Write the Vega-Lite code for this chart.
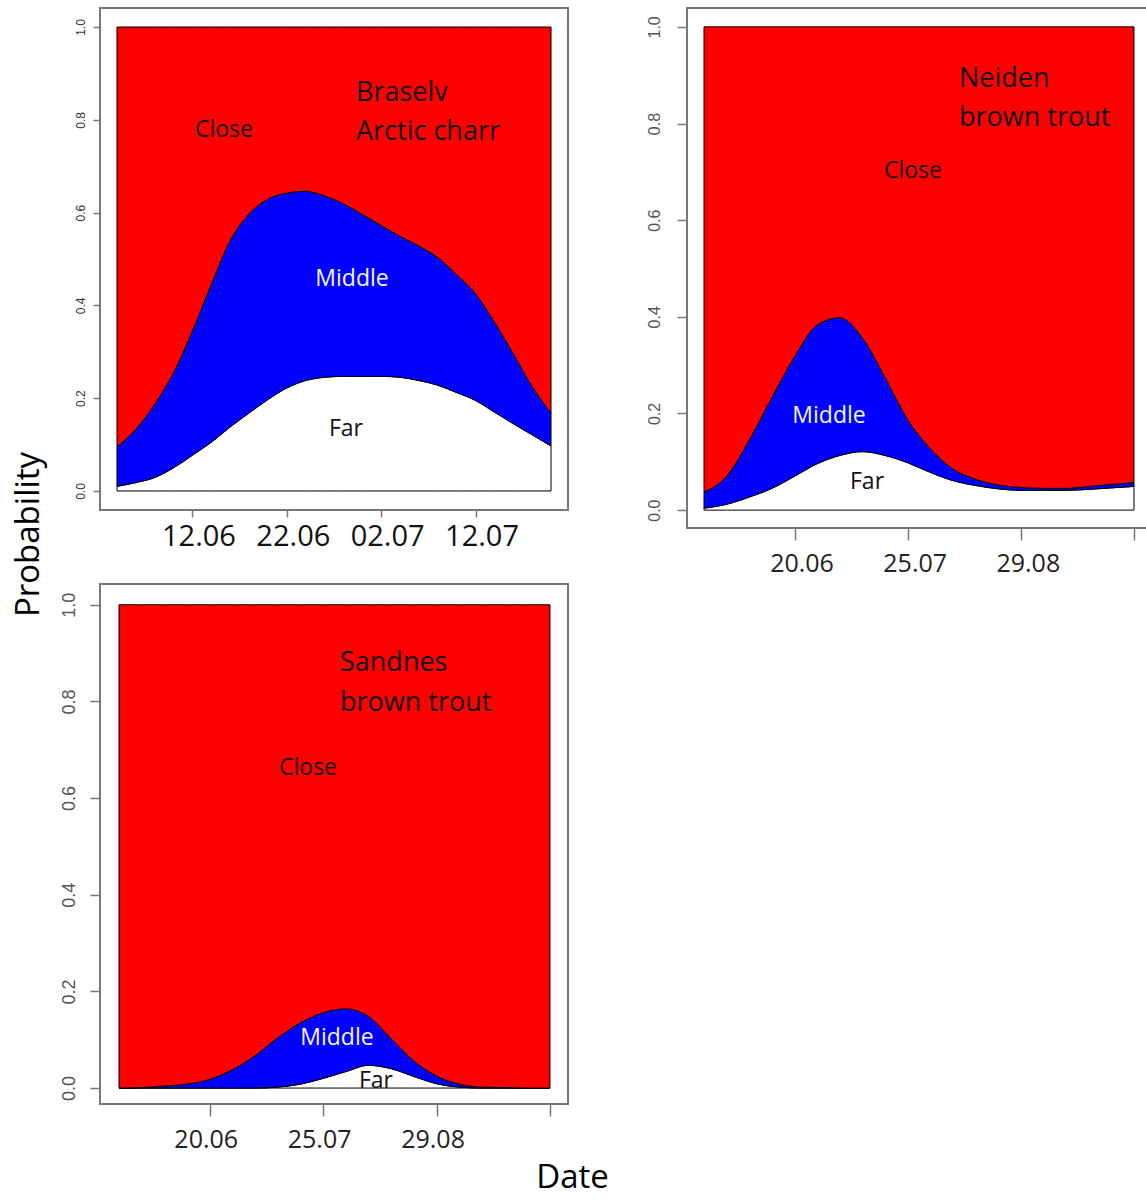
{
  "$schema": "https://vega.github.io/schema/vega-lite/v6.json",
  "background": "white",
  "padding": {"left": 11, "top": 7, "right": 0, "bottom": 0},
  "config": {
    "view": {"stroke": "#777", "strokeWidth": 2},
    "axis": {"domain": false, "grid": false, "labelFlush": false, "labelOverlap": false, "tickColor": "#777", "tickWidth": 1.5}
  },
  "datasets": {
    "braselv": [
      {"doy":155,"zone":"Far","rank":1,"prob":0.010},{"doy":155,"zone":"Middle","rank":2,"prob":0.085},{"doy":155,"zone":"Close","rank":3,"prob":0.905},
      {"doy":157,"zone":"Far","rank":1,"prob":0.018},{"doy":157,"zone":"Middle","rank":2,"prob":0.115},{"doy":157,"zone":"Close","rank":3,"prob":0.867},
      {"doy":159,"zone":"Far","rank":1,"prob":0.029},{"doy":159,"zone":"Middle","rank":2,"prob":0.158},{"doy":159,"zone":"Close","rank":3,"prob":0.813},
      {"doy":161,"zone":"Far","rank":1,"prob":0.050},{"doy":161,"zone":"Middle","rank":2,"prob":0.205},{"doy":161,"zone":"Close","rank":3,"prob":0.745},
      {"doy":163,"zone":"Far","rank":1,"prob":0.077},{"doy":163,"zone":"Middle","rank":2,"prob":0.268},{"doy":163,"zone":"Close","rank":3,"prob":0.655},
      {"doy":165,"zone":"Far","rank":1,"prob":0.105},{"doy":165,"zone":"Middle","rank":2,"prob":0.340},{"doy":165,"zone":"Close","rank":3,"prob":0.555},
      {"doy":167,"zone":"Far","rank":1,"prob":0.138},{"doy":167,"zone":"Middle","rank":2,"prob":0.402},{"doy":167,"zone":"Close","rank":3,"prob":0.460},
      {"doy":169,"zone":"Far","rank":1,"prob":0.168},{"doy":169,"zone":"Middle","rank":2,"prob":0.429},{"doy":169,"zone":"Close","rank":3,"prob":0.403},
      {"doy":171,"zone":"Far","rank":1,"prob":0.197},{"doy":171,"zone":"Middle","rank":2,"prob":0.432},{"doy":171,"zone":"Close","rank":3,"prob":0.371},
      {"doy":173,"zone":"Far","rank":1,"prob":0.222},{"doy":173,"zone":"Middle","rank":2,"prob":0.420},{"doy":173,"zone":"Close","rank":3,"prob":0.358},
      {"doy":175,"zone":"Far","rank":1,"prob":0.238},{"doy":175,"zone":"Middle","rank":2,"prob":0.408},{"doy":175,"zone":"Close","rank":3,"prob":0.354},
      {"doy":177,"zone":"Far","rank":1,"prob":0.245},{"doy":177,"zone":"Middle","rank":2,"prob":0.391},{"doy":177,"zone":"Close","rank":3,"prob":0.364},
      {"doy":179,"zone":"Far","rank":1,"prob":0.247},{"doy":179,"zone":"Middle","rank":2,"prob":0.372},{"doy":179,"zone":"Close","rank":3,"prob":0.381},
      {"doy":181,"zone":"Far","rank":1,"prob":0.247},{"doy":181,"zone":"Middle","rank":2,"prob":0.349},{"doy":181,"zone":"Close","rank":3,"prob":0.404},
      {"doy":183,"zone":"Far","rank":1,"prob":0.247},{"doy":183,"zone":"Middle","rank":2,"prob":0.325},{"doy":183,"zone":"Close","rank":3,"prob":0.428},
      {"doy":185,"zone":"Far","rank":1,"prob":0.245},{"doy":185,"zone":"Middle","rank":2,"prob":0.304},{"doy":185,"zone":"Close","rank":3,"prob":0.451},
      {"doy":187,"zone":"Far","rank":1,"prob":0.238},{"doy":187,"zone":"Middle","rank":2,"prob":0.290},{"doy":187,"zone":"Close","rank":3,"prob":0.472},
      {"doy":189,"zone":"Far","rank":1,"prob":0.228},{"doy":189,"zone":"Middle","rank":2,"prob":0.275},{"doy":189,"zone":"Close","rank":3,"prob":0.497},
      {"doy":191,"zone":"Far","rank":1,"prob":0.212},{"doy":191,"zone":"Middle","rank":2,"prob":0.254},{"doy":191,"zone":"Close","rank":3,"prob":0.534},
      {"doy":193,"zone":"Far","rank":1,"prob":0.195},{"doy":193,"zone":"Middle","rank":2,"prob":0.230},{"doy":193,"zone":"Close","rank":3,"prob":0.575},
      {"doy":195,"zone":"Far","rank":1,"prob":0.170},{"doy":195,"zone":"Middle","rank":2,"prob":0.194},{"doy":195,"zone":"Close","rank":3,"prob":0.636},
      {"doy":197,"zone":"Far","rank":1,"prob":0.145},{"doy":197,"zone":"Middle","rank":2,"prob":0.151},{"doy":197,"zone":"Close","rank":3,"prob":0.704},
      {"doy":199,"zone":"Far","rank":1,"prob":0.121},{"doy":199,"zone":"Middle","rank":2,"prob":0.104},{"doy":199,"zone":"Close","rank":3,"prob":0.775},
      {"doy":201,"zone":"Far","rank":1,"prob":0.097},{"doy":201,"zone":"Middle","rank":2,"prob":0.071},{"doy":201,"zone":"Close","rank":3,"prob":0.832}
    ],
    "neiden": [
      {"doy":143,"zone":"Far","rank":1,"prob":0.004},{"doy":143,"zone":"Middle","rank":2,"prob":0.033},{"doy":143,"zone":"Close","rank":3,"prob":0.963},
      {"doy":150,"zone":"Far","rank":1,"prob":0.012},{"doy":150,"zone":"Middle","rank":2,"prob":0.058},{"doy":150,"zone":"Close","rank":3,"prob":0.930},
      {"doy":157,"zone":"Far","rank":1,"prob":0.027},{"doy":157,"zone":"Middle","rank":2,"prob":0.118},{"doy":157,"zone":"Close","rank":3,"prob":0.855},
      {"doy":164,"zone":"Far","rank":1,"prob":0.045},{"doy":164,"zone":"Middle","rank":2,"prob":0.188},{"doy":164,"zone":"Close","rank":3,"prob":0.767},
      {"doy":171,"zone":"Far","rank":1,"prob":0.070},{"doy":171,"zone":"Middle","rank":2,"prob":0.247},{"doy":171,"zone":"Close","rank":3,"prob":0.683},
      {"doy":178,"zone":"Far","rank":1,"prob":0.096},{"doy":178,"zone":"Middle","rank":2,"prob":0.287},{"doy":178,"zone":"Close","rank":3,"prob":0.617},
      {"doy":185,"zone":"Far","rank":1,"prob":0.113},{"doy":185,"zone":"Middle","rank":2,"prob":0.285},{"doy":185,"zone":"Close","rank":3,"prob":0.602},
      {"doy":192,"zone":"Far","rank":1,"prob":0.121},{"doy":192,"zone":"Middle","rank":2,"prob":0.235},{"doy":192,"zone":"Close","rank":3,"prob":0.644},
      {"doy":199,"zone":"Far","rank":1,"prob":0.113},{"doy":199,"zone":"Middle","rank":2,"prob":0.161},{"doy":199,"zone":"Close","rank":3,"prob":0.726},
      {"doy":206,"zone":"Far","rank":1,"prob":0.098},{"doy":206,"zone":"Middle","rank":2,"prob":0.089},{"doy":206,"zone":"Close","rank":3,"prob":0.813},
      {"doy":213,"zone":"Far","rank":1,"prob":0.078},{"doy":213,"zone":"Middle","rank":2,"prob":0.049},{"doy":213,"zone":"Close","rank":3,"prob":0.873},
      {"doy":220,"zone":"Far","rank":1,"prob":0.061},{"doy":220,"zone":"Middle","rank":2,"prob":0.024},{"doy":220,"zone":"Close","rank":3,"prob":0.915},
      {"doy":227,"zone":"Far","rank":1,"prob":0.051},{"doy":227,"zone":"Middle","rank":2,"prob":0.013},{"doy":227,"zone":"Close","rank":3,"prob":0.936},
      {"doy":234,"zone":"Far","rank":1,"prob":0.044},{"doy":234,"zone":"Middle","rank":2,"prob":0.008},{"doy":234,"zone":"Close","rank":3,"prob":0.948},
      {"doy":241,"zone":"Far","rank":1,"prob":0.041},{"doy":241,"zone":"Middle","rank":2,"prob":0.006},{"doy":241,"zone":"Close","rank":3,"prob":0.953},
      {"doy":248,"zone":"Far","rank":1,"prob":0.041},{"doy":248,"zone":"Middle","rank":2,"prob":0.004},{"doy":248,"zone":"Close","rank":3,"prob":0.955},
      {"doy":255,"zone":"Far","rank":1,"prob":0.041},{"doy":255,"zone":"Middle","rank":2,"prob":0.004},{"doy":255,"zone":"Close","rank":3,"prob":0.955},
      {"doy":262,"zone":"Far","rank":1,"prob":0.043},{"doy":262,"zone":"Middle","rank":2,"prob":0.006},{"doy":262,"zone":"Close","rank":3,"prob":0.951},
      {"doy":269,"zone":"Far","rank":1,"prob":0.046},{"doy":269,"zone":"Middle","rank":2,"prob":0.007},{"doy":269,"zone":"Close","rank":3,"prob":0.947},
      {"doy":276,"zone":"Far","rank":1,"prob":0.049},{"doy":276,"zone":"Middle","rank":2,"prob":0.008},{"doy":276,"zone":"Close","rank":3,"prob":0.943}
    ],
    "sandnes": [
      {"doy":143,"zone":"Far","rank":1,"prob":0},{"doy":143,"zone":"Middle","rank":2,"prob":0},{"doy":143,"zone":"Close","rank":3,"prob":1},
      {"doy":150,"zone":"Far","rank":1,"prob":0},{"doy":150,"zone":"Middle","rank":2,"prob":0.001},{"doy":150,"zone":"Close","rank":3,"prob":0.999},
      {"doy":157,"zone":"Far","rank":1,"prob":0},{"doy":157,"zone":"Middle","rank":2,"prob":0.004},{"doy":157,"zone":"Close","rank":3,"prob":0.996},
      {"doy":164,"zone":"Far","rank":1,"prob":0},{"doy":164,"zone":"Middle","rank":2,"prob":0.008},{"doy":164,"zone":"Close","rank":3,"prob":0.992},
      {"doy":171,"zone":"Far","rank":1,"prob":0},{"doy":171,"zone":"Middle","rank":2,"prob":0.018},{"doy":171,"zone":"Close","rank":3,"prob":0.982},
      {"doy":178,"zone":"Far","rank":1,"prob":0},{"doy":178,"zone":"Middle","rank":2,"prob":0.038},{"doy":178,"zone":"Close","rank":3,"prob":0.962},
      {"doy":185,"zone":"Far","rank":1,"prob":0},{"doy":185,"zone":"Middle","rank":2,"prob":0.067},{"doy":185,"zone":"Close","rank":3,"prob":0.933},
      {"doy":192,"zone":"Far","rank":1,"prob":0.002},{"doy":192,"zone":"Middle","rank":2,"prob":0.102},{"doy":192,"zone":"Close","rank":3,"prob":0.896},
      {"doy":199,"zone":"Far","rank":1,"prob":0.008},{"doy":199,"zone":"Middle","rank":2,"prob":0.127},{"doy":199,"zone":"Close","rank":3,"prob":0.865},
      {"doy":206,"zone":"Far","rank":1,"prob":0.020},{"doy":206,"zone":"Middle","rank":2,"prob":0.136},{"doy":206,"zone":"Close","rank":3,"prob":0.844},
      {"doy":213,"zone":"Far","rank":1,"prob":0.034},{"doy":213,"zone":"Middle","rank":2,"prob":0.130},{"doy":213,"zone":"Close","rank":3,"prob":0.836},
      {"doy":220,"zone":"Far","rank":1,"prob":0.047},{"doy":220,"zone":"Middle","rank":2,"prob":0.101},{"doy":220,"zone":"Close","rank":3,"prob":0.852},
      {"doy":227,"zone":"Far","rank":1,"prob":0.040},{"doy":227,"zone":"Middle","rank":2,"prob":0.062},{"doy":227,"zone":"Close","rank":3,"prob":0.898},
      {"doy":234,"zone":"Far","rank":1,"prob":0.024},{"doy":234,"zone":"Middle","rank":2,"prob":0.032},{"doy":234,"zone":"Close","rank":3,"prob":0.944},
      {"doy":241,"zone":"Far","rank":1,"prob":0.009},{"doy":241,"zone":"Middle","rank":2,"prob":0.016},{"doy":241,"zone":"Close","rank":3,"prob":0.975},
      {"doy":248,"zone":"Far","rank":1,"prob":0.002},{"doy":248,"zone":"Middle","rank":2,"prob":0.006},{"doy":248,"zone":"Close","rank":3,"prob":0.992},
      {"doy":255,"zone":"Far","rank":1,"prob":0},{"doy":255,"zone":"Middle","rank":2,"prob":0.002},{"doy":255,"zone":"Close","rank":3,"prob":0.998},
      {"doy":262,"zone":"Far","rank":1,"prob":0},{"doy":262,"zone":"Middle","rank":2,"prob":0.001},{"doy":262,"zone":"Close","rank":3,"prob":0.999},
      {"doy":269,"zone":"Far","rank":1,"prob":0},{"doy":269,"zone":"Middle","rank":2,"prob":0},{"doy":269,"zone":"Close","rank":3,"prob":1},
      {"doy":276,"zone":"Far","rank":1,"prob":0},{"doy":276,"zone":"Middle","rank":2,"prob":0},{"doy":276,"zone":"Close","rank":3,"prob":1}
    ],
    "labels": [
      {"panel":"Braselv","kind":"species","doy":180.33,"p":0.858,"text":"Braselv"},
      {"panel":"Braselv","kind":"species","doy":180.33,"p":0.774,"text":"Arctic charr"},
      {"panel":"Braselv","kind":"zone","doy":166.34,"p":0.778,"text":"Close"},
      {"panel":"Braselv","kind":"zone","doy":179.91,"p":0.457,"text":"Middle"},
      {"panel":"Braselv","kind":"zone","doy":179.27,"p":0.134,"text":"Far"},
      {"panel":"Neiden","kind":"species","doy":221.87,"p":0.892,"text":"Neiden"},
      {"panel":"Neiden","kind":"species","doy":221.87,"p":0.811,"text":"brown trout"},
      {"panel":"Neiden","kind":"zone","doy":207.64,"p":0.702,"text":"Close"},
      {"panel":"Neiden","kind":"zone","doy":181.66,"p":0.194,"text":"Middle"},
      {"panel":"Neiden","kind":"zone","doy":193.42,"p":0.058,"text":"Far"},
      {"panel":"Sandnes","kind":"species","doy":211.2,"p":0.879,"text":"Sandnes"},
      {"panel":"Sandnes","kind":"species","doy":211.2,"p":0.797,"text":"brown trout"},
      {"panel":"Sandnes","kind":"zone","doy":201.33,"p":0.662,"text":"Close"},
      {"panel":"Sandnes","kind":"zone","doy":210.27,"p":0.103,"text":"Middle"},
      {"panel":"Sandnes","kind":"zone","doy":222.31,"p":0.014,"text":"Far"}
    ]
  },
  "columns": 2,
  "bounds": "flush",
  "spacing": {"row": 56, "column": 119},
  "concat": [
    {
      "width": 468,
      "height": 502,
      "layer": [
        {
          "data": {"name": "braselv"},
          "mark": {"type": "area", "interpolate": "monotone", "stroke": "black", "strokeWidth": 1},
          "encoding": {
            "x": {"field": "doy", "type": "quantitative", "scale": {"domain": [153.2, 202.8], "nice": false, "zero": false},
              "axis": {"title": null, "values": [163, 173, 183, 193],
                "labelExpr": "datum.value == 163 ? '12.06' : datum.value == 173 ? '22.06' : datum.value == 183 ? '02.07' : '12.07'",
                "tickSize": 7, "labelFont": "Open Sans", "labelFontSize": 29, "labelColor": "#111", "labelPadding": 5, "labelOffset": 6}},
            "y": {"field": "prob", "type": "quantitative", "stack": "zero", "scale": {"domain": [-0.041, 1.041], "nice": false, "zero": false},
              "axis": {"values": [0, 0.2, 0.4, 0.6, 0.8, 1], "format": ".1f", "labelAngle": 270, "labelAlign": "center", "labelBaseline": "bottom",
                "labelFont": "Liberation Sans", "labelFontSize": 12, "labelColor": "#333", "tickSize": 7, "labelPadding": 6,
                "title": "Probability", "titleX": -62, "titleY": 526, "titleAngle": 270, "titleAlign": "center", "titleBaseline": "alphabetic",
                "titleFont": "Open Sans", "titleFontSize": 33, "titleFontWeight": "normal", "titleColor": "black"}},
            "color": {"field": "zone", "type": "nominal", "scale": {"domain": ["Far", "Middle", "Close"], "range": ["#FFFFFF", "#0000FF", "#FF0000"]}, "legend": null},
            "order": {"field": "rank", "type": "quantitative"}
          }
        },
        {
          "data": {"name": "labels"},
          "transform": [{"filter": "datum.panel == 'Braselv' && datum.kind == 'species'"}],
          "mark": {"type": "text", "align": "left", "baseline": "middle", "font": "Open Sans", "fontSize": 27, "color": "#111"},
          "encoding": {"x": {"field": "doy", "type": "quantitative"}, "y": {"field": "p", "type": "quantitative"}, "text": {"field": "text"}}
        },
        {
          "data": {"name": "labels"},
          "transform": [{"filter": "datum.panel == 'Braselv' && datum.kind == 'zone' && datum.text != 'Middle'"}],
          "mark": {"type": "text", "align": "center", "baseline": "middle", "font": "Open Sans", "fontSize": 23, "color": "#111"},
          "encoding": {"x": {"field": "doy", "type": "quantitative"}, "y": {"field": "p", "type": "quantitative"}, "text": {"field": "text"}}
        },
        {
          "data": {"name": "labels"},
          "transform": [{"filter": "datum.panel == 'Braselv' && datum.text == 'Middle'"}],
          "mark": {"type": "text", "align": "center", "baseline": "middle", "font": "Open Sans", "fontSize": 23, "color": "#F4F4FF"},
          "encoding": {"x": {"field": "doy", "type": "quantitative"}, "y": {"field": "p", "type": "quantitative"}, "text": {"field": "text"}}
        }
      ]
    },
    {
      "width": 464,
      "height": 520,
      "layer": [
        {
          "data": {"name": "neiden"},
          "mark": {"type": "area", "interpolate": "monotone", "stroke": "black", "strokeWidth": 1},
          "encoding": {
            "x": {"field": "doy", "type": "quantitative", "scale": {"domain": [137.74, 281.26], "nice": false, "zero": false},
              "axis": {"title": null, "values": [171, 206, 241, 276],
                "labelExpr": "datum.value == 171 ? '20.06' : datum.value == 206 ? '25.07' : datum.value == 241 ? '29.08' : ''",
                "tickSize": 12, "labelFont": "Open Sans", "labelFontSize": 25, "labelColor": "#222", "labelPadding": 11, "labelOffset": 7}},
            "y": {"field": "prob", "type": "quantitative", "stack": "zero", "scale": {"domain": [-0.037, 1.039], "nice": false, "zero": false},
              "axis": {"title": null, "values": [0, 0.2, 0.4, 0.6, 0.8, 1], "format": ".1f", "labelAngle": 270, "labelAlign": "center", "labelBaseline": "bottom",
                "labelFont": "Liberation Sans", "labelFontSize": 16, "labelColor": "#555", "tickSize": 10, "labelPadding": 15}},
            "color": {"field": "zone", "type": "nominal", "scale": {"domain": ["Far", "Middle", "Close"], "range": ["#FFFFFF", "#0000FF", "#FF0000"]}, "legend": null},
            "order": {"field": "rank", "type": "quantitative"}
          }
        },
        {
          "data": {"name": "labels"},
          "transform": [{"filter": "datum.panel == 'Neiden' && datum.kind == 'species'"}],
          "mark": {"type": "text", "align": "left", "baseline": "middle", "font": "Open Sans", "fontSize": 27, "color": "#111"},
          "encoding": {"x": {"field": "doy", "type": "quantitative"}, "y": {"field": "p", "type": "quantitative"}, "text": {"field": "text"}}
        },
        {
          "data": {"name": "labels"},
          "transform": [{"filter": "datum.panel == 'Neiden' && datum.kind == 'zone' && datum.text != 'Middle'"}],
          "mark": {"type": "text", "align": "center", "baseline": "middle", "font": "Open Sans", "fontSize": 23, "color": "#111"},
          "encoding": {"x": {"field": "doy", "type": "quantitative"}, "y": {"field": "p", "type": "quantitative"}, "text": {"field": "text"}}
        },
        {
          "data": {"name": "labels"},
          "transform": [{"filter": "datum.panel == 'Neiden' && datum.text == 'Middle'"}],
          "mark": {"type": "text", "align": "center", "baseline": "middle", "font": "Open Sans", "fontSize": 23, "color": "#F4F4FF"},
          "encoding": {"x": {"field": "doy", "type": "quantitative"}, "y": {"field": "p", "type": "quantitative"}, "text": {"field": "text"}}
        }
      ]
    },
    {
      "width": 468,
      "height": 520,
      "layer": [
        {
          "data": {"name": "sandnes"},
          "mark": {"type": "area", "interpolate": "monotone", "stroke": "black", "strokeWidth": 1},
          "encoding": {
            "x": {"field": "doy", "type": "quantitative", "scale": {"domain": [137.14, 281.56], "nice": false, "zero": false},
              "axis": {"values": [171, 206, 241, 276],
                "labelExpr": "datum.value == 171 ? '20.06' : datum.value == 206 ? '25.07' : datum.value == 241 ? '29.08' : ''",
                "tickSize": 12, "labelFont": "Open Sans", "labelFontSize": 25, "labelColor": "#222", "labelPadding": 11, "labelOffset": -4,
                "title": "Date", "titleX": 472, "titleY": 83, "titleAlign": "center", "titleBaseline": "alphabetic",
                "titleFont": "Open Sans", "titleFontSize": 33, "titleFontWeight": "normal", "titleColor": "black"}},
            "y": {"field": "prob", "type": "quantitative", "stack": "zero", "scale": {"domain": [-0.033, 1.043], "nice": false, "zero": false},
              "axis": {"title": null, "values": [0, 0.2, 0.4, 0.6, 0.8, 1], "format": ".1f", "labelAngle": 270, "labelAlign": "center", "labelBaseline": "bottom",
                "labelFont": "Liberation Sans", "labelFontSize": 18, "labelColor": "#555", "tickSize": 10, "labelPadding": 12}},
            "color": {"field": "zone", "type": "nominal", "scale": {"domain": ["Far", "Middle", "Close"], "range": ["#FFFFFF", "#0000FF", "#FF0000"]}, "legend": null},
            "order": {"field": "rank", "type": "quantitative"}
          }
        },
        {
          "data": {"name": "labels"},
          "transform": [{"filter": "datum.panel == 'Sandnes' && datum.kind == 'species'"}],
          "mark": {"type": "text", "align": "left", "baseline": "middle", "font": "Open Sans", "fontSize": 27, "color": "#111"},
          "encoding": {"x": {"field": "doy", "type": "quantitative"}, "y": {"field": "p", "type": "quantitative"}, "text": {"field": "text"}}
        },
        {
          "data": {"name": "labels"},
          "transform": [{"filter": "datum.panel == 'Sandnes' && datum.kind == 'zone' && datum.text != 'Middle'"}],
          "mark": {"type": "text", "align": "center", "baseline": "middle", "font": "Open Sans", "fontSize": 23, "color": "#111"},
          "encoding": {"x": {"field": "doy", "type": "quantitative"}, "y": {"field": "p", "type": "quantitative"}, "text": {"field": "text"}}
        },
        {
          "data": {"name": "labels"},
          "transform": [{"filter": "datum.panel == 'Sandnes' && datum.text == 'Middle'"}],
          "mark": {"type": "text", "align": "center", "baseline": "middle", "font": "Open Sans", "fontSize": 23, "color": "#F4F4FF"},
          "encoding": {"x": {"field": "doy", "type": "quantitative"}, "y": {"field": "p", "type": "quantitative"}, "text": {"field": "text"}}
        }
      ]
    }
  ]
}
